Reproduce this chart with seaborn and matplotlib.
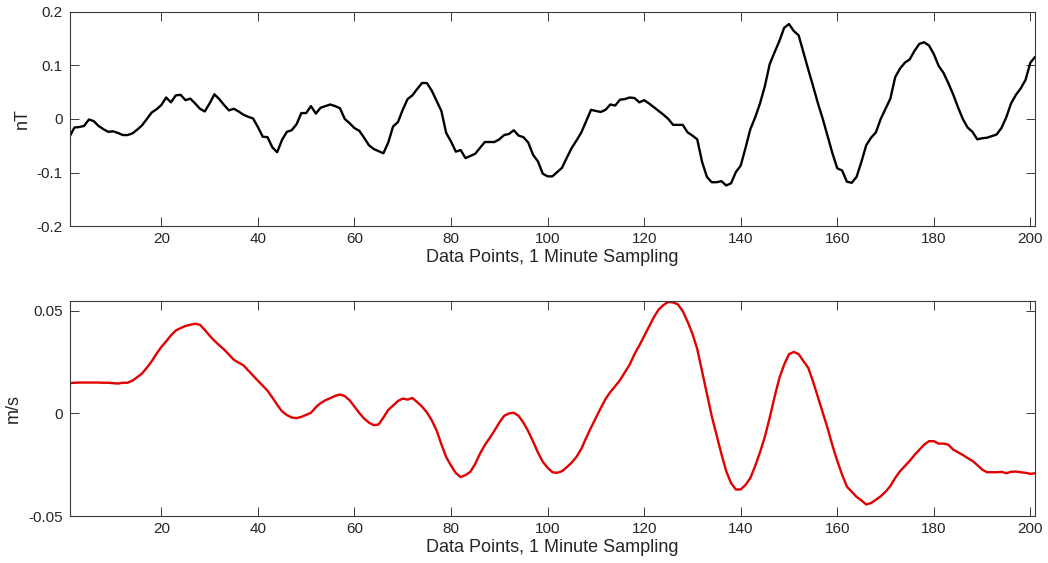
import numpy as np
import pandas as pd
import matplotlib
matplotlib.use("Agg")
import matplotlib.pyplot as plt
import seaborn as sns

# Sample index (1-minute sampling)
sample_index = list(range(1, 202))

# Magnetic field variation, nT
field_nT = [
    -0.033, -0.016, -0.015, -0.013, -0.001, -0.004, -0.013, -0.019, -0.024, -0.023,
    -0.026, -0.030, -0.030, -0.027, -0.020, -0.012, 0.000, 0.012, 0.018, 0.026,
    0.040, 0.031, 0.044, 0.045, 0.035, 0.038, 0.029, 0.019, 0.014, 0.029,
    0.046, 0.037, 0.026, 0.016, 0.019, 0.014, 0.008, 0.004, 0.001, -0.015,
    -0.033, -0.034, -0.053, -0.062, -0.039, -0.024, -0.021, -0.010, 0.011, 0.011,
    0.024, 0.010, 0.021, 0.024, 0.027, 0.024, 0.020, 0.000, -0.008, -0.017,
    -0.022, -0.035, -0.049, -0.056, -0.060, -0.064, -0.044, -0.014, -0.006, 0.017,
    0.037, 0.044, 0.056, 0.067, 0.067, 0.053, 0.034, 0.015, -0.026, -0.042,
    -0.061, -0.058, -0.073, -0.069, -0.065, -0.054, -0.043, -0.043, -0.043, -0.038,
    -0.030, -0.028, -0.021, -0.031, -0.034, -0.044, -0.067, -0.079, -0.102, -0.107,
    -0.107, -0.099, -0.091, -0.072, -0.054, -0.040, -0.025, -0.004, 0.017, 0.015,
    0.013, 0.017, 0.027, 0.025, 0.036, 0.037, 0.040, 0.039, 0.031, 0.035,
    0.029, 0.022, 0.015, 0.008, 0.000, -0.011, -0.011, -0.011, -0.025, -0.031,
    -0.038, -0.080, -0.108, -0.118, -0.118, -0.116, -0.124, -0.120, -0.099, -0.087,
    -0.054, -0.019, 0.003, 0.029, 0.061, 0.102, 0.124, 0.145, 0.170, 0.177,
    0.164, 0.156, 0.124, 0.092, 0.061, 0.029, 0.000, -0.032, -0.064, -0.092,
    -0.096, -0.117, -0.119, -0.108, -0.080, -0.049, -0.035, -0.025, 0.000, 0.019,
    0.038, 0.078, 0.094, 0.105, 0.111, 0.127, 0.140, 0.143, 0.137, 0.121,
    0.099, 0.086, 0.067, 0.046, 0.022, 0.000, -0.016, -0.024, -0.038, -0.036,
    -0.035, -0.032, -0.029, -0.017, 0.003, 0.029, 0.045, 0.057, 0.073, 0.105,
    0.116,
]

# Velocity, m/s
velocity_ms = [
    0.0147, 0.0149, 0.0150, 0.0150, 0.0150, 0.0150, 0.0150, 0.0149, 0.0149, 0.0147,
    0.0145, 0.0149, 0.0149, 0.0159, 0.0176, 0.0194, 0.0222, 0.0253, 0.0290, 0.0323,
    0.0350, 0.0380, 0.0403, 0.0415, 0.0425, 0.0431, 0.0436, 0.0431, 0.0406, 0.0378,
    0.0353, 0.0331, 0.0311, 0.0286, 0.0261, 0.0247, 0.0234, 0.0209, 0.0184, 0.0159,
    0.0135, 0.0110, 0.0077, 0.0042, 0.0010, -0.0008, -0.0020, -0.0023, -0.0017, -0.0007,
    0.0003, 0.0030, 0.0050, 0.0064, 0.0074, 0.0085, 0.0092, 0.0084, 0.0064, 0.0033,
    0.0002, -0.0025, -0.0045, -0.0057, -0.0054, -0.0020, 0.0017, 0.0038, 0.0060, 0.0072,
    0.0067, 0.0075, 0.0055, 0.0033, 0.0005, -0.0033, -0.0082, -0.0150, -0.0212, -0.0254,
    -0.0290, -0.0310, -0.0300, -0.0284, -0.0246, -0.0196, -0.0154, -0.0120, -0.0084, -0.0045,
    -0.0012, 0.0000, 0.0003, -0.0012, -0.0045, -0.0087, -0.0137, -0.0190, -0.0235, -0.0264,
    -0.0286, -0.0289, -0.0281, -0.0261, -0.0239, -0.0211, -0.0172, -0.0119, -0.0069, -0.0022,
    0.0025, 0.0070, 0.0104, 0.0132, 0.0162, 0.0199, 0.0237, 0.0288, 0.0330, 0.0376,
    0.0421, 0.0467, 0.0505, 0.0527, 0.0542, 0.0540, 0.0530, 0.0497, 0.0446, 0.0388,
    0.0313, 0.0204, 0.0095, -0.0013, -0.0105, -0.0197, -0.0281, -0.0339, -0.0370, -0.0370,
    -0.0348, -0.0314, -0.0256, -0.0189, -0.0114, -0.0022, 0.0079, 0.0171, 0.0237, 0.0288,
    0.0299, 0.0288, 0.0254, 0.0221, 0.0154, 0.0079, 0.0003, -0.0072, -0.0156, -0.0231,
    -0.0298, -0.0356, -0.0381, -0.0406, -0.0423, -0.0443, -0.0436, -0.0420, -0.0403, -0.0381,
    -0.0353, -0.0314, -0.0281, -0.0256, -0.0231, -0.0202, -0.0177, -0.0152, -0.0135, -0.0135,
    -0.0147, -0.0147, -0.0152, -0.0176, -0.0189, -0.0202, -0.0217, -0.0231, -0.0251, -0.0273,
    -0.0286, -0.0286, -0.0286, -0.0284, -0.0291, -0.0284, -0.0283, -0.0286, -0.0289, -0.0294,
    -0.0291,
]

x_ticks = [20, 40, 60, 80, 100, 120, 140, 160, 180, 200]
top_yticks = [-0.2, -0.1, 0, 0.1, 0.2]
top_yticklabels = ["-0.2", "-0.1", "0", "0.1", "0.2"]
bottom_yticks = [-0.05, 0, 0.05]
bottom_yticklabels = ["-0.05", "0", "0.05"]
x_label = "Data Points, 1 Minute Sampling"

df = pd.DataFrame({"sample": sample_index, "field": field_nT, "velocity": velocity_ms})

sns.set_theme(style="white")
plt.rcParams["font.family"] = ["Liberation Sans", "DejaVu Sans"]
plt.rcParams["axes.unicode_minus"] = False

text_color = "#262626"
axis_color = "#3a3a3a"

fig = plt.figure(figsize=(10.48, 5.63), dpi=100)
fig.patch.set_facecolor("white")

ax_top = fig.add_axes([0.0664, 0.5982, 0.9214, 0.3810])
ax_bot = fig.add_axes([0.0664, 0.0831, 0.9214, 0.3817])

sns.lineplot(data=df, x="sample", y="field", ax=ax_top, color="black", linewidth=1.7)
sns.lineplot(data=df, x="sample", y="velocity", ax=ax_bot, color="#e30000", linewidth=1.7)


def style_axes(ax, yticks, yticklabels, ylim, ylabel, ylabel_x):
    ax.set_xlim(1, 201)
    ax.set_ylim(*ylim)
    ax.set_xticks(x_ticks)
    ax.set_xticklabels([str(t) for t in x_ticks])
    ax.set_yticks(yticks)
    ax.set_yticklabels(yticklabels)
    for side in ["top", "bottom", "left", "right"]:
        ax.spines[side].set_visible(True)
        ax.spines[side].set_color(axis_color)
        ax.spines[side].set_linewidth(0.8)
    ax.tick_params(axis="both", which="major", direction="in", length=6.8, width=0.7,
                   color=axis_color, labelcolor=text_color, labelsize=11,
                   top=True, right=True, bottom=True, left=True)
    ax.tick_params(axis="x", pad=4)
    ax.tick_params(axis="y", pad=5)
    ax.set_xlabel(x_label, fontsize=13, color=text_color, labelpad=2)
    ax.set_ylabel("")
    ax.grid(False)
    fig.text(ylabel_x, ax.get_position().y0 + ax.get_position().height / 2, ylabel,
             rotation=90, ha="center", va="center", fontsize=13, color=text_color)


style_axes(ax_top, top_yticks, top_yticklabels, (-0.2, 0.2), "nT", 22 / 1048)
style_axes(ax_bot, bottom_yticks, bottom_yticklabels, (-0.05, 0.0545), "m/s", 13 / 1048)

fig.savefig("out.png", dpi=100, facecolor="white")
